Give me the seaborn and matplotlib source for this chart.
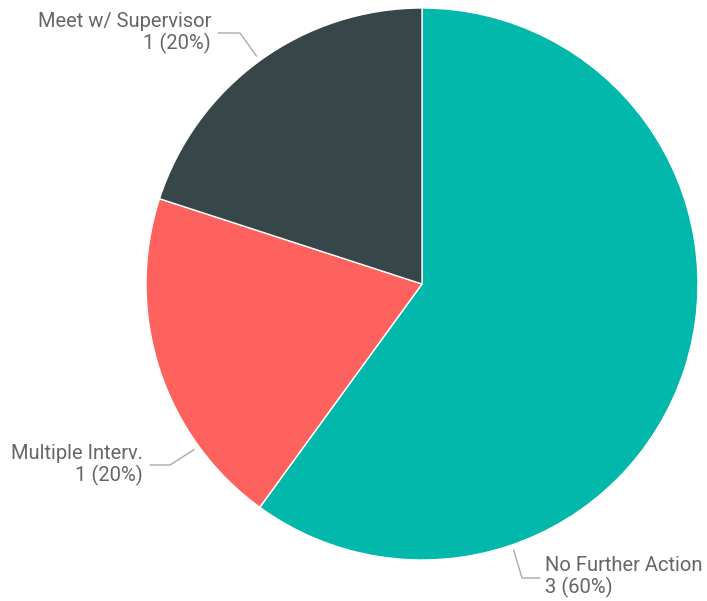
import numpy as np
import matplotlib
matplotlib.use("Agg")
import matplotlib.pyplot as plt
import seaborn as sns

# data
categories = ["No Further Action", "Multiple Interv.", "Meet w/ Supervisor"]
counts = [3, 1, 1]
colors = ["#01B8AA", "#FD625E", "#374649"]

sns.set_theme(style="white")
plt.rcParams['font.family'] = ['Roboto', 'DejaVu Sans']

fig = plt.figure(figsize=(7.07, 6.01), dpi=100)
ax = fig.add_axes([0, 0, 1, 1])

cx, cy, R = 422, 317, 276
ax.pie(counts, colors=colors, startangle=90, counterclock=False,
       center=(cx, cy), radius=R, frame=True,
       wedgeprops=dict(linewidth=1, edgecolor='white'))
ax.set_xlim(0, 707)
ax.set_ylim(0, 601)
ax.set_aspect('equal')
ax.axis('off')

total = sum(counts)
labels = [f"{c}\n{n} ({n / total:.0%})" for c, n in zip(categories, counts)]

# leader lines: angle on circle, elbow, end, text position
leaders = [
    # No Further Action
    dict(ang=-71, elbow=(522, 23), end=(540, 23), txt=(545, 24), ha='left'),
    # Multiple Interv.
    dict(ang=216, elbow=(170, 136), end=(150, 136), txt=(143, 136), ha='right'),
    # Meet w/ Supervisor
    dict(ang=126, elbow=(240, 568), end=(218, 568), txt=(211, 568), ha='right'),
]

for lab, ld in zip(labels, leaders):
    a = np.deg2rad(ld['ang'])
    p0 = (cx + 1.02 * R * np.cos(a), cy + 1.02 * R * np.sin(a))
    ax.plot([p0[0], ld['elbow'][0], ld['end'][0]],
            [p0[1], ld['elbow'][1], ld['end'][1]],
            color='#aaaaaa', lw=1)
    ax.text(ld['txt'][0], ld['txt'][1], lab, ha=ld['ha'], va='center',
            fontsize=14.5, color='#666666', linespacing=1.1,
            multialignment=ld['ha'])

fig.savefig("out.png", dpi=100)
